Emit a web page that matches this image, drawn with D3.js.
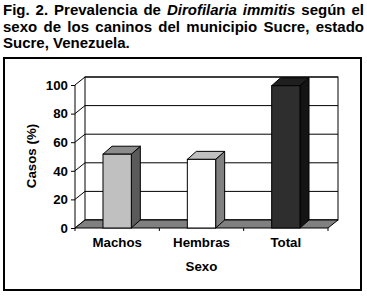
<!DOCTYPE html>
<html>
<head>
<meta charset="utf-8">
<script src="https://cdn.jsdelivr.net/npm/d3@7"></script>
<style>
  body { margin: 0; background: #fff; }
  text { font-family: "Liberation Sans", Arial, sans-serif; font-weight: bold; fill: #000; }
</style>
</head>
<body>
<div id="chart"></div>
<script>
// data
var categories = ["Machos", "Hembras", "Total"];
var values = [51.6, 48, 99.5];
var yTicks = [0, 20, 40, 60, 80, 100];
var frontColors = ["#c0c0c0", "#ffffff", "#2e2e2e"];
var topColors = ["#8c8c8c", "#c0c0c0", "#1f1f1f"];
var sideColors = ["#5a5a5a", "#808080", "#141414"];
var titleLines = [
  ["Fig. 2. Prevalencia de ", { it: "Dirofilaria immitis" }, " según el"],
  ["sexo de los caninos del municipio Sucre, estado"],
  ["Sucre, Venezuela."]
];

var W = 367, H = 297;
var svg = d3.select("#chart").append("svg").attr("width", W).attr("height", H);

// title, first two lines justified
var titleY = [15, 31.5, 48];
titleLines.forEach(function (parts, i) {
  var t = svg.append("text").attr("x", 3).attr("y", titleY[i]).style("font-size", "15px");
  parts.forEach(function (p) {
    if (typeof p === "string") t.append("tspan").text(p);
    else t.append("tspan").style("font-style", "italic").text(p.it);
  });
  if (i < 2) {
    var full = parts.map(function (p) { return typeof p === "string" ? p : p.it; }).join("");
    var spaces = full.split(" ").length - 1;
    var w = t.node().getComputedTextLength();
    t.style("word-spacing", ((364 - 3 - w) / spaces) + "px");
  }
});

// frame
svg.append("rect").attr("x", 4).attr("y", 58).attr("width", 357).attr("height", 232)
  .attr("fill", "none").attr("stroke", "#000").attr("stroke-width", 2);

// 3d geometry
var x0 = 75, x1 = 328, dx = 10, dy = -8;
var x = d3.scaleBand().domain(categories).range([x0, x1]).paddingInner(0.664).paddingOuter(0.332);
var y = d3.scaleLinear().domain([0, 100]).range([228, 85]);
var bdx = 9, bdy = -8;

// back wall
svg.append("rect").attr("x", x0 + dx).attr("y", y(100) + dy)
  .attr("width", x1 - x0).attr("height", y(0) - y(100))
  .attr("fill", "#fff").attr("stroke", "#000").attr("stroke-width", 1);

// gridlines (side wall diagonal + back wall horizontal)
yTicks.forEach(function (v) {
  svg.append("path")
    .attr("d", "M" + x0 + "," + y(v) + "L" + (x0 + dx) + "," + (y(v) + dy) + "L" + (x1 + dx) + "," + (y(v) + dy))
    .attr("fill", "none").attr("stroke", "#000").attr("stroke-width", 1);
});

// floor
svg.append("path")
  .attr("d", "M" + x0 + "," + y(0) + "L" + x1 + "," + y(0) + "L" + (x1 + dx) + "," + (y(0) + dy) + "L" + (x0 + dx) + "," + (y(0) + dy) + "Z")
  .attr("fill", "#808080").attr("stroke", "#000").attr("stroke-width", 1);

// y axis (front)
var yAxis = d3.axisLeft(y).tickValues(yTicks).tickSize(4).tickPadding(3);
var gy = svg.append("g").attr("transform", "translate(" + x0 + ",0)").call(yAxis);
gy.select(".domain").attr("d", "M0," + y(0) + "V" + y(100));
gy.selectAll("text").style("font-size", "13.3px").attr("font-family", null);

// x axis (front edge of floor)
var xTicks = [x0, x0 + (x1 - x0) / 3, x0 + 2 * (x1 - x0) / 3, x1];
xTicks.forEach(function (px) {
  svg.append("line").attr("x1", px).attr("x2", px).attr("y1", y(0)).attr("y2", y(0) + 3)
    .attr("stroke", "#000");
});
svg.selectAll(".cat").data(categories).enter().append("text")
  .attr("class", "cat")
  .attr("x", function (d) { return x(d) + x.bandwidth() / 2; })
  .attr("y", 246.7)
  .attr("text-anchor", "middle")
  .style("font-size", "13.3px")
  .text(function (d) { return d; });

// bars
var bars = svg.selectAll(".bar").data(values).enter().append("g").attr("class", "bar");
bars.each(function (v, i) {
  var g = d3.select(this);
  var bx = x(categories[i]), bw = x.bandwidth(), top = y(v), bot = y(0);
  // side
  g.append("path")
    .attr("d", "M" + (bx + bw) + "," + bot + "L" + (bx + bw) + "," + top + "L" + (bx + bw + bdx) + "," + (top + bdy) + "L" + (bx + bw + bdx) + "," + (bot + bdy) + "Z")
    .attr("fill", sideColors[i]).attr("stroke", "#000").attr("stroke-width", 1).attr("stroke-linejoin", "round");
  // top
  g.append("path")
    .attr("d", "M" + bx + "," + top + "L" + (bx + bdx) + "," + (top + bdy) + "L" + (bx + bw + bdx) + "," + (top + bdy) + "L" + (bx + bw) + "," + top + "Z")
    .attr("fill", topColors[i]).attr("stroke", "#000").attr("stroke-width", 1).attr("stroke-linejoin", "round");
  // front
  g.append("rect").attr("x", bx).attr("y", top).attr("width", bw).attr("height", bot - top)
    .attr("fill", frontColors[i]).attr("stroke", "#000").attr("stroke-width", 1);
});

// axis titles
svg.append("text").attr("x", (x0 + x1) / 2).attr("y", 270.7).attr("text-anchor", "middle")
  .style("font-size", "13.3px").text("Sexo");
svg.append("text").attr("transform", "translate(36," + 156 + ") rotate(-90)")
  .attr("text-anchor", "middle").style("font-size", "13.3px").text("Casos (%)");
</script>
</body>
</html>
